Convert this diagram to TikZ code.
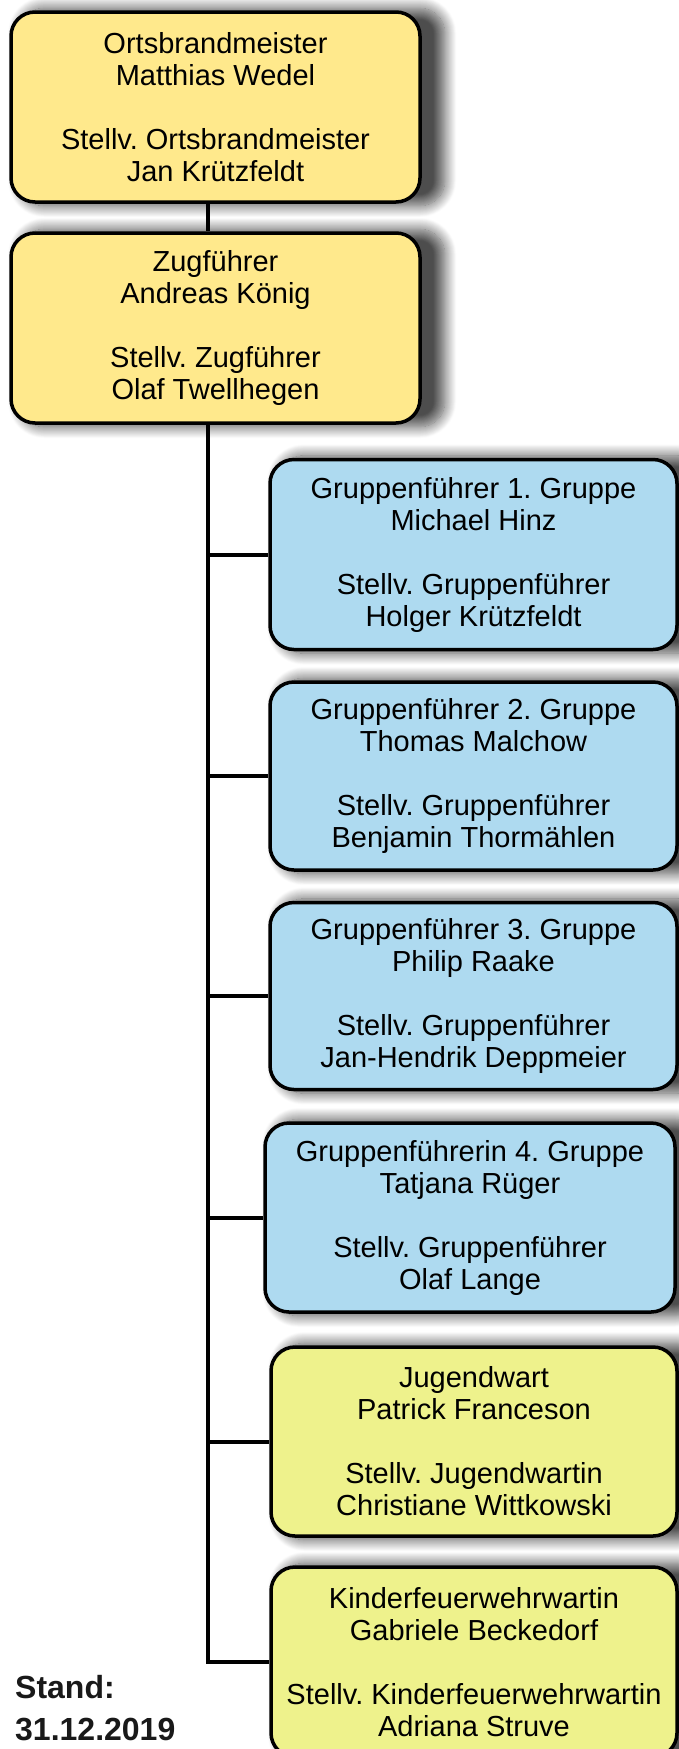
\documentclass[tikz,border=0pt]{standalone}
\usepackage{fontspec}
\setmainfont{Liberation Sans}
\frenchspacing
\usetikzlibrary{shadows.blur}
\definecolor{boxyellow}{RGB}{255,233,140}
\definecolor{boxblue}{RGB}{174,218,240}
\definecolor{boxlime}{RGB}{238,242,140}
\tikzset{
  orgbox/.style={draw=black, line width=3.5pt, rounded corners=24pt, align=center,
    minimum width=#1, inner sep=0pt, font=\fontsize{29}{32}\selectfont,
    blur shadow={shadow xshift=16pt, shadow yshift=0pt, shadow scale=1.04, shadow blur radius=11pt, shadow blur steps=16, shadow opacity=70}},
  conn/.style={line width=4pt, black},
  stamp/.style={anchor=base west, font=\fontsize{32}{36}\bfseries\selectfont, inner sep=0pt, text=black!90},
}
\begin{document}
\begin{tikzpicture}[x=1pt,y=-1pt]
\useasboundingbox (0,0) rectangle (679,1749);
\node[orgbox=409pt, minimum height=190pt, fill=boxyellow] (top) at (215.5,107)
  {Ortsbrandmeister\\Matthias Wedel\\[32pt]Stellv. Ortsbrandmeister\\Jan Krützfeldt};
\node[orgbox=409pt, minimum height=190pt, fill=boxyellow] (zug) at (215.5,328)
  {Zugführer\\Andreas König\\[32pt]Stellv. Zugführer\\Olaf Twellhegen};
\node[orgbox=407pt, minimum height=190pt, fill=boxblue] (g1) at (473.5,554.5)
  {Gruppenführer 1. Gruppe\\Michael Hinz\\[32pt]Stellv. Gruppenführer\\Holger Krützfeldt};
\node[orgbox=407pt, minimum height=188pt, fill=boxblue] (g2) at (473.5,776)
  {Gruppenführer 2. Gruppe\\Thomas Malchow\\[32pt]Stellv. Gruppenführer\\Benjamin Thormählen};
\node[orgbox=407pt, minimum height=187pt, fill=boxblue] (g3) at (473.5,996)
  {Gruppenführer 3. Gruppe\\Philip Raake\\[32pt]Stellv. Gruppenführer\\Jan-Hendrik Deppmeier};
\node[orgbox=410pt, minimum height=189pt, fill=boxblue] (g4) at (470,1217.5)
  {Gruppenführerin 4. Gruppe\\Tatjana Rüger\\[32pt]Stellv. Gruppenführer\\Olaf Lange};
\node[orgbox=406pt, minimum height=189pt, fill=boxlime] (jw) at (474,1441.5)
  {Jugendwart\\Patrick Franceson\\[32pt]Stellv. Jugendwartin\\Christiane Wittkowski};
\node[orgbox=406pt, minimum height=190pt, fill=boxlime] (kf) at (474,1662)
  {Kinderfeuerwehrwartin\\Gabriele Beckedorf\\[32pt]Stellv. Kinderfeuerwehrwartin\\Adriana Struve};
\node[stamp] (stand) at (15,1698) {Stand:};
\node[stamp] (date) at (15,1740) {31.12.2019};
\coordinate (spine) at (208,0);
\draw[conn] (top.south -| spine) -- (zug.north -| spine);
\draw[conn] (zug.south -| spine) |- (kf.west);
\foreach \n in {g1,g2,g3,g4,jw} \draw[conn] (\n.west -| spine) -- (\n.west);
\end{tikzpicture}
\end{document}
